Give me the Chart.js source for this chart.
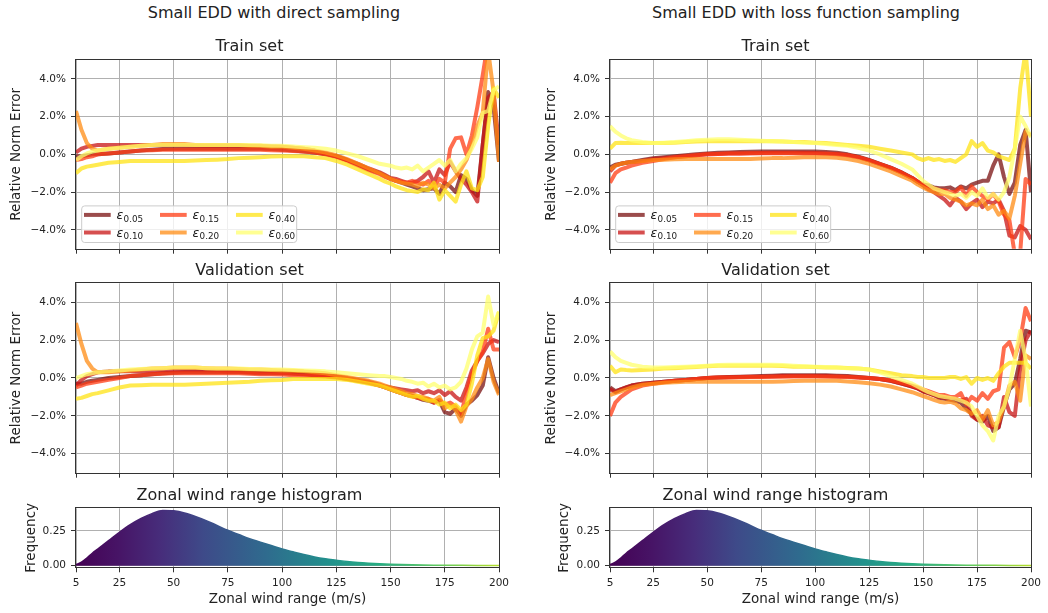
<!DOCTYPE html>
<html>
<head>
<meta charset="utf-8">
<script src="https://cdn.jsdelivr.net/npm/chart.js@4.4.0/dist/chart.umd.min.js"></script>
<style>
  body { margin: 0; background: #fff; }
  #fig { position: relative; width: 1048px; height: 613px; overflow: hidden; font-family: 'DejaVu Sans'; }
  canvas { position: absolute; }
  .sup { position: absolute; top: 3px; font-size: 16px; line-height: 20px; color: #222; white-space: nowrap; transform: translateX(-50%); }
</style>
</head>
<body>
<div id="fig">
  <div class="sup" style="left:274px">Small EDD with direct sampling</div>
  <div class="sup" style="left:806px">Small EDD with loss function sampling</div>
  <canvas id="dTrain" width="520" height="230" style="left:0;top:30px"></canvas>
  <canvas id="dVal" width="520" height="229" style="left:0;top:255px"></canvas>
  <canvas id="dHist" width="520" height="133" style="left:0;top:480px"></canvas>
  <canvas id="lTrain" width="528" height="230" style="left:520px;top:30px"></canvas>
  <canvas id="lVal" width="528" height="229" style="left:520px;top:255px"></canvas>
  <canvas id="lHist" width="528" height="133" style="left:520px;top:480px"></canvas>
</div>
<script>
// zonal wind range (m/s) sample points, shared by all error curves
const xs = [5,7.5,10,12.5,15, 20,25,30,35,40,45,50,55,60,65,70,
  75,80,85,90,95,100,105,110,115,120,125,130,135,140,145,
  147.5,150,152.5,155,157.5,160,162.5,165,167.5,170,172.5,175,177.5,180,182.5,185,187.5,190,192.5,195,197.5,200];
const xTicks = [5,25,50,75,100,125,150,175,200];
const yTicks = [-4,-2,0,2,4];
const histTicks = [0,0.25];

const epsSubs = ['0.05','0.10','0.15','0.20','0.40','0.60'];
const epsColors = ['rgba(122,16,16,0.75)','rgba(200,20,20,0.75)','rgba(255,60,20,0.75)',
  'rgba(255,140,20,0.75)','rgba(255,227,20,0.75)','rgba(255,255,110,0.75)'];

// relative norm error (%) - direct sampling, train set
const dTr05 = [-0.1,-0.1,-0.05,0,0, 0.05,0.1,0.15,0.2,0.25,0.28,0.3,0.3,0.3,0.3,0.3,
  0.3,0.3,0.3,0.3,0.28,0.25,0.2,0.15,0.1,0,-0.1,-0.3,-0.55,-0.8,-1.0,
  -1.15,-1.3,-1.4,-1.5,-1.6,-1.7,-1.8,-1.9,-1.85,-1.8,-2.1,-1.5,-1.7,-2.0,-1.1,-1.3,-1.9,-2.2,0.5,3.3,2.5,-0.4];
const dTr10 = [0.1,0.3,0.4,0.45,0.5, 0.5,0.5,0.5,0.5,0.5,0.5,0.5,0.48,0.47,0.46,0.45,
  0.45,0.45,0.44,0.43,0.42,0.4,0.35,0.3,0.2,0.05,-0.1,-0.3,-0.5,-0.75,-0.95,
  -1.1,-1.25,-1.3,-1.4,-1.5,-1.5,-1.4,-1.2,-0.9,-1.5,-0.8,-1.1,-0.4,-0.9,-1.3,-1.6,-2.0,-2.5,0.5,3.0,3.3,0.5];
const dTr15 = [-0.3,-0.25,-0.15,-0.1,0, 0.05,0.1,0.15,0.2,0.22,0.25,0.25,0.25,0.25,0.25,0.25,
  0.25,0.25,0.25,0.25,0.22,0.2,0.18,0.15,0.1,0,-0.15,-0.35,-0.6,-0.85,-1.05,
  -1.2,-1.3,-1.4,-1.45,-1.5,-1.4,-1.5,-1.6,-1.4,-1.7,-1.3,-1.5,0.3,0.85,0.9,0.0,1.0,2.5,4.2,6,6,6];
const dTr20 = [2.3,1.3,0.6,0.3,0.2, 0.3,0.35,0.4,0.45,0.5,0.55,0.55,0.55,0.5,0.5,0.5,
  0.5,0.5,0.45,0.45,0.4,0.4,0.35,0.3,0.2,0.1,-0.05,-0.25,-0.5,-0.75,-1.0,
  -1.15,-1.3,-1.4,-1.5,-1.55,-1.6,-1.7,-1.5,-1.6,-1.8,-1.6,-1.8,-1.5,-1.2,-0.8,-0.3,0.5,1.5,2.2,5.5,3.3,-0.4];
const dTr40 = [-1.0,-0.75,-0.65,-0.6,-0.55, -0.45,-0.4,-0.35,-0.35,-0.35,-0.35,-0.35,-0.35,-0.33,-0.3,-0.28,
  -0.25,-0.2,-0.18,-0.15,-0.12,-0.1,-0.1,-0.1,-0.15,-0.2,-0.35,-0.55,-0.8,-1.05,-1.3,
  -1.45,-1.55,-1.7,-1.8,-1.9,-1.95,-2.0,-1.85,-1.9,-1.5,-2.4,-1.9,-2.2,-2.5,-1.6,-0.9,-1.8,-1.9,-1.2,1.5,3.5,3.0];
const dTr60 = [-0.3,-0.1,0.05,0.15,0.2, 0.3,0.35,0.4,0.45,0.5,0.5,0.5,0.5,0.5,0.5,0.5,
  0.5,0.5,0.5,0.48,0.46,0.45,0.42,0.38,0.35,0.3,0.2,0.05,-0.1,-0.3,-0.5,
  -0.55,-0.6,-0.7,-0.75,-0.7,-0.8,-0.6,-0.9,-0.7,-0.5,-0.3,-0.6,-0.3,-0.9,-0.5,-0.2,0.3,0.9,2.2,2.3,3.4,3.6];

// direct sampling, validation set
const dVa05 = [-0.3,-0.3,-0.2,-0.15,-0.1, 0,0.05,0.1,0.15,0.2,0.25,0.28,0.3,0.3,0.3,0.3,
  0.3,0.3,0.28,0.25,0.25,0.25,0.22,0.2,0.15,0.1,0.05,-0.05,-0.15,-0.25,-0.4,
  -0.5,-0.6,-0.7,-0.8,-0.9,-0.95,-1.05,-1.15,-1.2,-1.3,-1.2,-1.8,-1.9,-1.6,-2.0,-1.4,-1.2,-0.9,-0.4,1.1,0.0,-0.8];
const dVa10 = [-0.4,-0.1,0.1,0.2,0.3, 0.35,0.35,0.35,0.35,0.35,0.38,0.4,0.4,0.4,0.4,0.38,
  0.35,0.35,0.32,0.3,0.3,0.28,0.25,0.22,0.18,0.15,0.1,0,-0.1,-0.2,-0.35,
  -0.45,-0.5,-0.55,-0.6,-0.65,-0.7,-0.65,-0.8,-0.7,-0.8,-0.65,-0.9,-0.7,-1.0,-1.2,-0.5,0.4,0.9,1.3,1.8,2.0,1.9];
const dVa15 = [-0.5,-0.4,-0.3,-0.25,-0.2, -0.1,0,0.1,0.15,0.2,0.22,0.25,0.25,0.25,0.25,0.25,
  0.25,0.25,0.22,0.2,0.2,0.18,0.15,0.12,0.1,0.08,0.03,-0.05,-0.15,-0.25,-0.4,
  -0.5,-0.6,-0.7,-0.8,-0.9,-0.95,-1.05,-1.1,-1.1,-1.3,-1.15,-1.4,-1.3,-1.5,-1.9,-0.8,0.2,0.9,1.4,2.6,1.5,1.5];
const dVa20 = [2.9,1.8,0.9,0.5,0.3, 0.3,0.35,0.4,0.45,0.5,0.52,0.55,0.55,0.55,0.52,0.5,
  0.5,0.48,0.45,0.45,0.42,0.4,0.38,0.35,0.3,0.25,0.15,0.05,-0.05,-0.15,-0.3,
  -0.4,-0.5,-0.6,-0.7,-0.8,-0.85,-0.95,-1.0,-1.1,-1.2,-1.0,-1.6,-1.4,-1.7,-2.3,-1.5,-1.1,-0.5,0.0,1.0,-0.2,-0.9];
const dVa40 = [-1.1,-1.05,-0.95,-0.85,-0.8, -0.65,-0.5,-0.4,-0.38,-0.35,-0.35,-0.35,-0.35,-0.33,-0.3,-0.28,
  -0.25,-0.22,-0.2,-0.15,-0.12,-0.1,-0.05,-0.05,-0.05,-0.05,-0.05,-0.1,-0.2,-0.3,-0.4,
  -0.5,-0.6,-0.7,-0.8,-0.9,-1.0,-0.95,-1.1,-1.2,-1.2,-1.4,-1.3,-1.6,-1.4,-1.7,-1.4,-0.3,1.2,2.1,2.2,2.5,3.5];
const dVa60 = [0,0.1,0.2,0.25,0.3, 0.35,0.4,0.45,0.48,0.5,0.52,0.55,0.55,0.55,0.52,0.5,
  0.5,0.5,0.48,0.46,0.45,0.45,0.42,0.4,0.38,0.35,0.3,0.25,0.2,0.15,0.1,
  0.1,0.05,0,-0.05,-0.15,-0.2,-0.3,-0.25,-0.45,-0.3,-0.5,-0.4,-0.6,-0.5,-0.2,0.5,1.5,2.2,2.4,4.3,2.8,3.5];

// loss function sampling, train set
const lTr05 = [-0.7,-0.55,-0.5,-0.45,-0.4, -0.3,-0.2,-0.15,-0.1,-0.05,0,0.05,0.08,0.1,0.12,0.14,
  0.15,0.15,0.15,0.15,0.15,0.15,0.12,0.08,0,-0.12,-0.3,-0.5,-0.7,-0.95,-1.25,
  -1.45,-1.6,-1.65,-1.75,-1.8,-1.8,-1.75,-1.9,-1.7,-1.8,-1.6,-1.5,-1.4,-1.4,-0.6,0.0,-1.2,-2.1,-1.5,0.5,1.3,-2.0];
const lTr10 = [-0.9,-0.6,-0.5,-0.45,-0.4, -0.35,-0.25,-0.2,-0.15,-0.1,-0.05,0,0.02,0.04,0.05,0.06,
  0.07,0.08,0.08,0.08,0.08,0.07,0.05,0.02,-0.05,-0.15,-0.32,-0.52,-0.72,-0.97,-1.27,
  -1.45,-1.65,-1.85,-2.0,-2.2,-2.4,-2.7,-2.3,-2.5,-2.9,-2.6,-2.4,-2.8,-2.5,-2.6,-2.4,-3.0,-4.3,-4.4,-3.8,-4.0,-4.5];
const lTr15 = [-1.5,-1.0,-0.8,-0.7,-0.6, -0.45,-0.35,-0.25,-0.15,-0.1,-0.05,0,0.02,0.04,0.05,0.06,
  0.06,0.06,0.06,0.06,0.05,0.05,0.03,0,-0.05,-0.15,-0.32,-0.52,-0.72,-0.97,-1.27,
  -1.45,-1.6,-1.75,-1.8,-1.9,-1.9,-2.0,-2.0,-1.75,-2.2,-1.7,-2.0,-2.2,-2.4,-2.1,-2.5,-3.2,-3.5,-5.3,-5.2,-1.3,-1.6];
const lTr20 = [-0.8,-0.6,-0.5,-0.45,-0.4, -0.35,-0.3,-0.28,-0.26,-0.25,-0.25,-0.25,-0.25,-0.25,-0.25,-0.25,
  -0.22,-0.2,-0.2,-0.18,-0.15,-0.15,-0.15,-0.18,-0.25,-0.35,-0.5,-0.7,-0.9,-1.15,-1.4,
  -1.6,-1.75,-1.9,-2.0,-2.1,-2.1,-2.3,-2.4,-2.5,-2.7,-2.6,-2.7,-2.4,-2.9,-2.7,-3.2,-3.0,-3.4,-2.2,-0.5,1.2,1.0];
const lTr40 = [0.3,0.6,0.62,0.6,0.6, 0.6,0.6,0.6,0.62,0.65,0.68,0.7,0.7,0.7,0.7,0.7,
  0.7,0.7,0.68,0.66,0.65,0.62,0.6,0.55,0.5,0.45,0.4,0.3,0.2,0.1,0.0,
  -0.2,-0.3,-0.2,-0.3,-0.25,-0.35,-0.3,-0.4,-0.2,0.0,0.7,0.4,0.6,0.2,0.1,-0.1,-0.2,-0.3,0.3,3.5,5.5,2.0];
const lTr60 = [1.5,1.2,1.0,0.85,0.75, 0.65,0.6,0.62,0.65,0.7,0.75,0.78,0.8,0.8,0.78,0.75,
  0.72,0.7,0.68,0.65,0.62,0.6,0.55,0.5,0.45,0.35,0.2,0.0,-0.25,-0.5,-0.8,
  -1.1,-1.4,-1.6,-1.8,-1.9,-2.0,-2.1,-2.2,-2.1,-2.3,-2.0,-2.2,-1.8,-2.3,-2.1,-2.4,-2.0,-1.2,0.3,2.0,1.5,0.9];

// loss function sampling, validation set
const lVa05 = [-0.5,-0.7,-0.6,-0.5,-0.4, -0.3,-0.25,-0.2,-0.15,-0.1,-0.05,0,0.03,0.05,0.07,0.08,
  0.1,0.12,0.14,0.15,0.15,0.15,0.14,0.12,0.1,0.05,0,-0.05,-0.15,-0.3,-0.45,
  -0.55,-0.7,-0.8,-0.9,-1.05,-1.1,-1.15,-1.2,-1.3,-1.6,-1.9,-2.2,-2.3,-2.0,-2.8,-2.6,-1.5,-0.6,-0.3,1.0,2.5,2.4];
const lVa10 = [-0.6,-0.75,-0.6,-0.5,-0.4, -0.3,-0.25,-0.2,-0.15,-0.1,-0.05,0,0.02,0.04,0.05,0.06,
  0.07,0.08,0.1,0.1,0.1,0.1,0.1,0.08,0.06,0.03,0,-0.05,-0.15,-0.3,-0.45,
  -0.55,-0.7,-0.8,-0.9,-1.0,-1.05,-1.1,-1.1,-1.2,-1.1,-2.0,-2.2,-2.0,-2.5,-2.6,-2.6,-1.0,-1.8,-2.0,0.5,2.0,2.5];
const lVa15 = [-2.0,-1.3,-1.0,-0.8,-0.6, -0.4,-0.3,-0.22,-0.15,-0.1,-0.05,0,0.02,0.03,0.04,0.05,
  0.05,0.06,0.07,0.08,0.08,0.08,0.07,0.06,0.05,0.02,0,-0.05,-0.12,-0.25,-0.4,
  -0.5,-0.6,-0.7,-0.8,-0.9,-0.9,-1.0,-1.0,-0.8,-1.4,-1.0,-1.2,-0.8,-1.1,-0.7,-0.6,1.6,1.9,1.1,2.0,3.7,3.0];
const lVa20 = [-0.9,-0.8,-0.7,-0.6,-0.5, -0.35,-0.3,-0.25,-0.22,-0.2,-0.2,-0.2,-0.2,-0.2,-0.2,-0.2,
  -0.2,-0.2,-0.18,-0.16,-0.15,-0.15,-0.15,-0.15,-0.18,-0.22,-0.28,-0.35,-0.45,-0.6,-0.75,
  -0.85,-0.95,-1.05,-1.15,-1.25,-1.3,-1.25,-1.35,-1.6,-1.7,-1.9,-1.7,-2.2,-1.7,-2.5,-2.3,-1.5,-0.4,-0.2,-1.2,1.2,1.0];
const lVa40 = [0.65,0.3,0.45,0.42,0.4, 0.42,0.45,0.5,0.52,0.55,0.58,0.62,0.65,0.65,0.65,0.65,
  0.65,0.65,0.63,0.6,0.6,0.58,0.56,0.55,0.53,0.5,0.45,0.35,0.25,0.15,0.1,
  0.05,0.05,0,0,0,0,0.05,0.05,-0.05,0.05,-0.3,0,-0.1,0,-0.15,0.25,0.6,0.8,0.8,0.8,0.8,0.5];
const lVa60 = [1.4,1.1,0.9,0.8,0.7, 0.6,0.55,0.55,0.58,0.6,0.62,0.65,0.68,0.7,0.7,0.7,
  0.7,0.7,0.68,0.65,0.62,0.6,0.58,0.55,0.52,0.5,0.45,0.3,0.1,-0.1,-0.3,
  -0.45,-0.6,-0.75,-0.85,-0.95,-1.0,-1.05,-1.1,-1.2,-1.3,-1.5,-2.0,-2.5,-2.8,-3.3,-2.0,-1.5,-0.5,1.0,2.5,1.0,-1.5];

// zonal wind range histogram (frequency)
const histX = [5,7.5,10,12.5,15,17.5,20,25,30,35,40,45,50,55,60,65,70,75,80,85,90,95,100,
  105,110,115,120,125,130,135,140,145,150,160,170,180,190,200];
const histFreq = [0.008,0.025,0.055,0.09,0.12,0.15,0.18,0.24,0.295,0.34,0.375,0.398,0.395,0.38,0.355,0.325,0.29,0.255,0.225,0.195,0.17,0.145,0.12,
  0.1,0.08,0.063,0.05,0.04,0.03,0.023,0.018,0.014,0.011,0.007,0.004,0.003,0.002,0.002];
const viridisPos = [0, 0.1, 0.2, 0.3, 0.45, 0.6, 0.72, 0.85, 1];
const viridisCol = ['#440154','#471466','#472d7b','#3e4a89','#2f6b8e','#21918c','#27ad81','#5ec962','#b5de2b'];

Chart.defaults.font.family = "'DejaVu Sans'";
Chart.defaults.color = '#222';

const cols = {
  left:  { yWidth: 76, yTitlePad: 8.6, histTitlePad: 23, padRight: 21 },
  right: { yWidth: 90, yTitlePad: 23,  histTitlePad: 36, padRight: 17 }
};

function fmtPct(v) {
  return (v < 0 ? '\u2212' : '') + Math.abs(v).toFixed(1) + '%';
}

const gridOpts = { color: '#b0b0b0', lineWidth: 1, tickLength: 5, tickColor: '#333', drawTicks: true };

// box around the axes, like matplotlib spines
const frame = {
  id: 'frame',
  afterDatasetsDraw(chart) {
    const a = chart.chartArea, ctx = chart.ctx;
    const l = Math.round(a.left) - 0.5, t = Math.round(a.top) - 0.5;
    ctx.save();
    ctx.strokeStyle = '#333';
    ctx.lineWidth = 1;
    ctx.strokeRect(l, t, Math.round(a.right) - Math.round(a.left) + 1, Math.round(a.bottom) - Math.round(a.top) + 1);
    ctx.restore();
  }
};

// legend box inside the axes with epsilon + subscript labels
const epsLegend = {
  id: 'epsLegend',
  afterDraw(chart, args, opts) {
    if (!opts.show) return;
    const a = chart.chartArea, ctx = chart.ctx;
    const bw = 215, bh = 36.6;
    const bx = a.left + 5.7, by = a.bottom - 6.2 - bh;
    ctx.save();
    ctx.beginPath();
    if (ctx.roundRect) ctx.roundRect(bx, by, bw, bh, 3); else ctx.rect(bx, by, bw, bh);
    ctx.fillStyle = 'rgba(255,255,255,0.8)';
    ctx.fill();
    ctx.strokeStyle = '#cccccc';
    ctx.lineWidth = 1;
    ctx.stroke();
    chart.data.datasets.forEach((ds, i) => {
      const c = Math.floor(i / 2), r = i % 2;
      const sx = bx + 2.3 + c * 76, sy = by + 9 + r * 17.6;
      ctx.strokeStyle = ds.borderColor;
      ctx.lineWidth = 4;
      ctx.beginPath();
      ctx.moveTo(sx, sy);
      ctx.lineTo(sx + 26.7, sy);
      ctx.stroke();
      ctx.fillStyle = '#222';
      ctx.textBaseline = 'alphabetic';
      ctx.font = "italic 12.5px 'DejaVu Sans'";
      ctx.fillText('\u03b5', sx + 32.5, sy + 4);
      const w = ctx.measureText('\u03b5').width;
      ctx.font = "8.8px 'DejaVu Sans'";
      ctx.fillText(ds.sub, sx + 32.5 + w + 0.3, sy + 6.8);
    });
    ctx.restore();
  }
};

function linePanel(id, col, title, tpad, series, withLegend) {
  const datasets = series.map((vals, i) => ({
    label: '\u03b5' + epsSubs[i],
    sub: epsSubs[i],
    data: xs.map((x, j) => ({ x: x, y: vals[j] })),
    borderColor: epsColors[i],
    borderWidth: 4,
    borderJoinStyle: 'round',
    pointRadius: 0,
    tension: 0,
    fill: false,
    order: 10 - i
  }));
  new Chart(document.getElementById(id), {
    type: 'line',
    data: { datasets: datasets },
    plugins: [frame, epsLegend],
    options: {
      responsive: false,
      animation: false,
      layout: { autoPadding: false, padding: { left: 0, right: col.padRight, top: 0, bottom: 0 } },
      plugins: {
        legend: { display: false },
        tooltip: { enabled: false },
        title: { display: true, text: title, font: { size: 16, weight: 'normal' }, color: '#222', padding: tpad },
        epsLegend: { show: withLegend }
      },
      scales: {
        x: {
          type: 'linear', min: 5, max: 200,
          afterBuildTicks: s => { s.ticks = xTicks.map(v => ({ value: v })); },
          afterFit: s => { s.height = 6; },
          ticks: { callback: () => '', autoSkip: false, maxRotation: 0 },
          grid: gridOpts,
          border: { display: false }
        },
        y: {
          min: -5, max: 5,
          afterBuildTicks: s => { s.ticks = yTicks.map(v => ({ value: v })); },
          afterFit: s => { s.width = col.yWidth; },
          ticks: { callback: v => fmtPct(v), font: { size: 10.5 }, color: '#222', padding: 5 },
          grid: gridOpts,
          border: { display: false },
          title: { display: true, text: 'Relative Norm Error', font: { size: 13.5 }, color: '#222',
                   padding: { top: col.yTitlePad, bottom: 0 } }
        }
      }
    }
  });
}

function viridis(chart) {
  const a = chart.chartArea;
  if (!a) return viridisCol[3];
  const g = chart.ctx.createLinearGradient(a.left, 0, a.right, 0);
  viridisPos.forEach((p, i) => g.addColorStop(p, viridisCol[i]));
  return g;
}

function histPanel(id, col) {
  new Chart(document.getElementById(id), {
    type: 'line',
    data: {
      datasets: [{
        data: histX.map((x, i) => ({ x: x, y: histFreq[i] })),
        fill: 'origin',
        backgroundColor: c => viridis(c.chart),
        borderColor: c => viridis(c.chart),
        borderWidth: 1.5,
        pointRadius: 0,
        cubicInterpolationMode: 'monotone'
      }]
    },
    plugins: [frame],
    options: {
      responsive: false,
      animation: false,
      layout: { autoPadding: false, padding: { left: 0, right: col.padRight, top: 0, bottom: 0 } },
      plugins: {
        legend: { display: false },
        tooltip: { enabled: false },
        title: { display: true, text: 'Zonal wind range histogram', font: { size: 16, weight: 'normal' },
                 color: '#222', padding: { top: 6.2, bottom: 2.9 } }
      },
      scales: {
        x: {
          type: 'linear', min: 5, max: 200,
          afterBuildTicks: s => { s.ticks = xTicks.map(v => ({ value: v })); },
          afterFit: s => { s.height = 45.7; },
          ticks: { callback: v => String(v), autoSkip: false, maxRotation: 0, font: { size: 10.5 }, color: '#222', padding: 5 },
          grid: gridOpts,
          border: { display: false },
          title: { display: true, text: 'Zonal wind range (m/s)', font: { size: 13.5 }, color: '#222',
                   padding: { top: 0, bottom: 5.2 } }
        },
        y: {
          min: -0.0115, max: 0.4135,
          afterBuildTicks: s => { s.ticks = histTicks.map(v => ({ value: v })); },
          afterFit: s => { s.width = col.yWidth; },
          ticks: { callback: v => v.toFixed(2), font: { size: 10.5 }, color: '#222', padding: 5 },
          grid: gridOpts,
          border: { display: false },
          title: { display: true, text: 'Frequency', font: { size: 13.5 }, color: '#222',
                   padding: { top: col.histTitlePad, bottom: 0 } }
        }
      }
    }
  });
}

linePanel('dTrain', cols.left, 'Train set', { top: 7.2, bottom: 3.6 }, [dTr05, dTr10, dTr15, dTr20, dTr40, dTr60], true);
linePanel('dVal', cols.left, 'Validation set', { top: 6.2, bottom: 2.9 }, [dVa05, dVa10, dVa15, dVa20, dVa40, dVa60], false);
histPanel('dHist', cols.left);
linePanel('lTrain', cols.right, 'Train set', { top: 7.2, bottom: 3.6 }, [lTr05, lTr10, lTr15, lTr20, lTr40, lTr60], true);
linePanel('lVal', cols.right, 'Validation set', { top: 6.2, bottom: 2.9 }, [lVa05, lVa10, lVa15, lVa20, lVa40, lVa60], false);
histPanel('lHist', cols.right);
</script>
</body>
</html>
